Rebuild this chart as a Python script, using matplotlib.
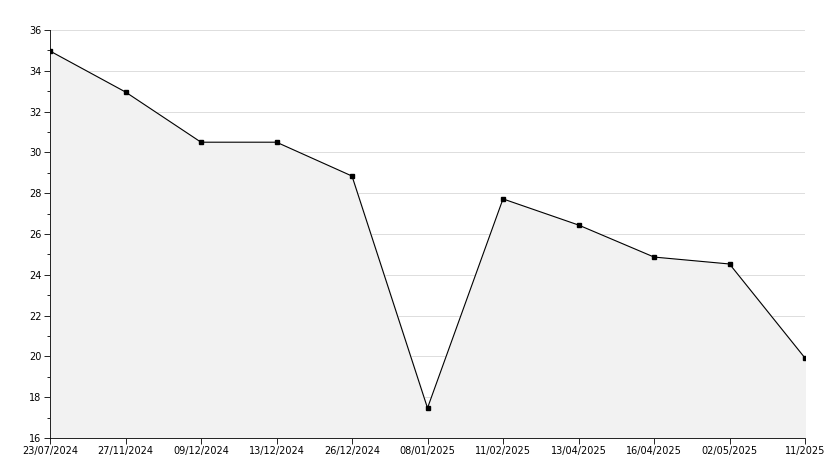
import matplotlib

matplotlib.use("Agg")

import matplotlib.pyplot as plt
import numpy as np

dates = ["23/07/2024", "27/11/2024", "09/12/2024", "13/12/2024", "26/12/2024",
         "08/01/2025", "11/02/2025", "13/04/2025", "16/04/2025", "02/05/2025", "11/2025"]
values = [34.97, 32.96, 30.5, 30.5, 28.84, 17.47, 27.72, 26.44, 24.87, 24.53, 19.92]

fig = plt.figure(figsize=(8.34, 4.68), dpi=100)
ax = fig.add_axes([50 / 834, 30 / 468, 755 / 834, 408 / 468])

x = np.arange(len(values))
ax.fill_between(x, values, 16, color="#f2f2f2", zorder=1)
ax.plot(x, values, color="black", linewidth=0.8, zorder=3)
ax.plot(x, values, "s", color="black", markersize=3.5, zorder=4)

ax.set_xlim(0, len(values) - 1)
ax.set_ylim(16, 36)
ax.set_yticks(np.arange(16, 37, 2))
ax.set_yticks(np.arange(16, 37, 1), minor=True)
ax.set_xticks(x)
ax.set_xticklabels(dates)
ax.tick_params(labelsize=7, length=4, width=0.6, pad=2)
ax.tick_params(axis="y", which="minor", length=2, width=0.6)
ax.grid(axis="y", color="#dddddd", linewidth=0.7, zorder=0)
ax.set_axisbelow(True)
for side in ("top", "right"):
    ax.spines[side].set_visible(False)
for side in ("left", "bottom"):
    ax.spines[side].set_linewidth(0.6)

fig.savefig("out.png", dpi=100, facecolor="white")
